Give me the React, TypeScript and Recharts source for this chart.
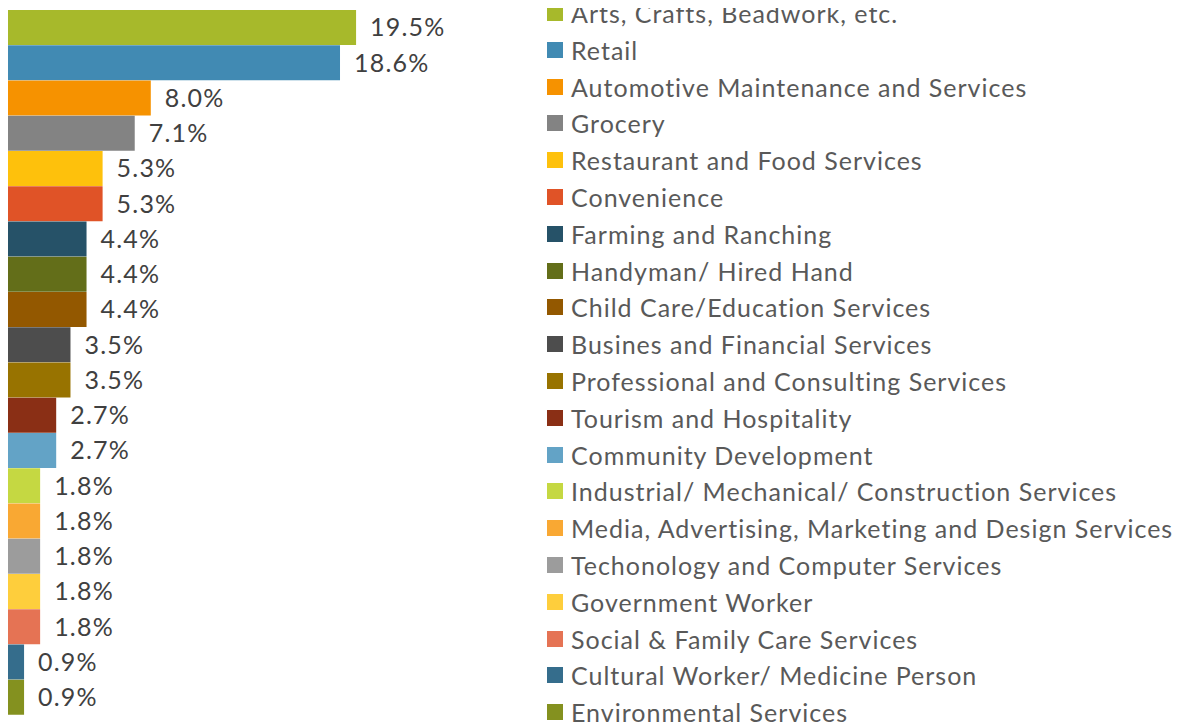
import { BarChart, Bar, XAxis, YAxis, Cell, LabelList, Legend } from "recharts";
import { ReactElement } from "react";

const categories = [
  "Arts, Crafts, Beadwork, etc.",
  "Retail",
  "Automotive Maintenance and Services",
  "Grocery",
  "Restaurant and Food Services",
  "Convenience",
  "Farming and Ranching",
  "Handyman/ Hired Hand",
  "Child Care/Education Services",
  "Busines and Financial Services",
  "Professional and Consulting Services",
  "Tourism and Hospitality",
  "Community Development",
  "Industrial/ Mechanical/ Construction Services",
  "Media, Advertising, Marketing and Design Services",
  "Techonology and Computer Services",
  "Government Worker",
  "Social & Family Care Services",
  "Cultural Worker/ Medicine Person",
  "Environmental Services",
];

const shares = [
  19.5, 18.6, 8.0, 7.1, 5.3, 5.3, 4.4, 4.4, 4.4, 3.5, 3.5, 2.7, 2.7, 1.8, 1.8,
  1.8, 1.8, 1.8, 0.9, 0.9,
];

const colors = [
  "#A7B92B", "#418AB3", "#F69200", "#838383", "#FEC10C", "#E05327",
  "#265268", "#636E19", "#935800", "#4D4D4D", "#987300", "#8A2F15",
  "#63A3C6", "#C5D842", "#F9A833", "#9C9C9C", "#FECE3C", "#E57354",
  "#356D8C", "#84911F",
];

const data = categories.map((name, i) => ({ name, value: shares[i] }));

const FONT = "Lato, 'Open Sans', sans-serif";

const LegendList = (): ReactElement => (
  <div style={{ fontFamily: FONT, fontSize: 25, color: "#595959", letterSpacing: 1 }}>
    {categories.map((c, i) => (
      <div
        key={c}
        style={{ height: 36.8, display: "flex", alignItems: "center", whiteSpace: "nowrap" }}
      >
        <span
          style={{
            display: "inline-block",
            width: 16,
            height: 16,
            background: colors[i],
            marginRight: 8,
          }}
        />
        {c}
      </div>
    ))}
  </div>
);

export const App = (): ReactElement => {
  return (
    <BarChart
      layout="vertical"
      width={1174}
      height={718}
      data={data}
      barCategoryGap={0}
      margin={{ top: 2, right: 638.5, left: 0, bottom: 11 }}
    >
      <XAxis type="number" domain={[0, 30]} hide />
      <YAxis type="category" dataKey="name" hide />
      <Legend
        layout="vertical"
        align="center"
        verticalAlign="middle"
        content={() => <LegendList />}
        wrapperStyle={{ left: 539, top: -13.4, width: 640 }}
      />
      <Bar dataKey="value" isAnimationActive={false}>
        {data.map((d, i) => (
          <Cell key={d.name} fill={colors[i]} />
        ))}
        <LabelList
          dataKey="value"
          position="right"
          offset={14}
          formatter={(v: number) => v.toFixed(1) + "%"}
          style={{ fontFamily: FONT, fontSize: 25, fill: "#404040", letterSpacing: 1.2 }}
        />
      </Bar>
    </BarChart>
  );
};

export default App;
